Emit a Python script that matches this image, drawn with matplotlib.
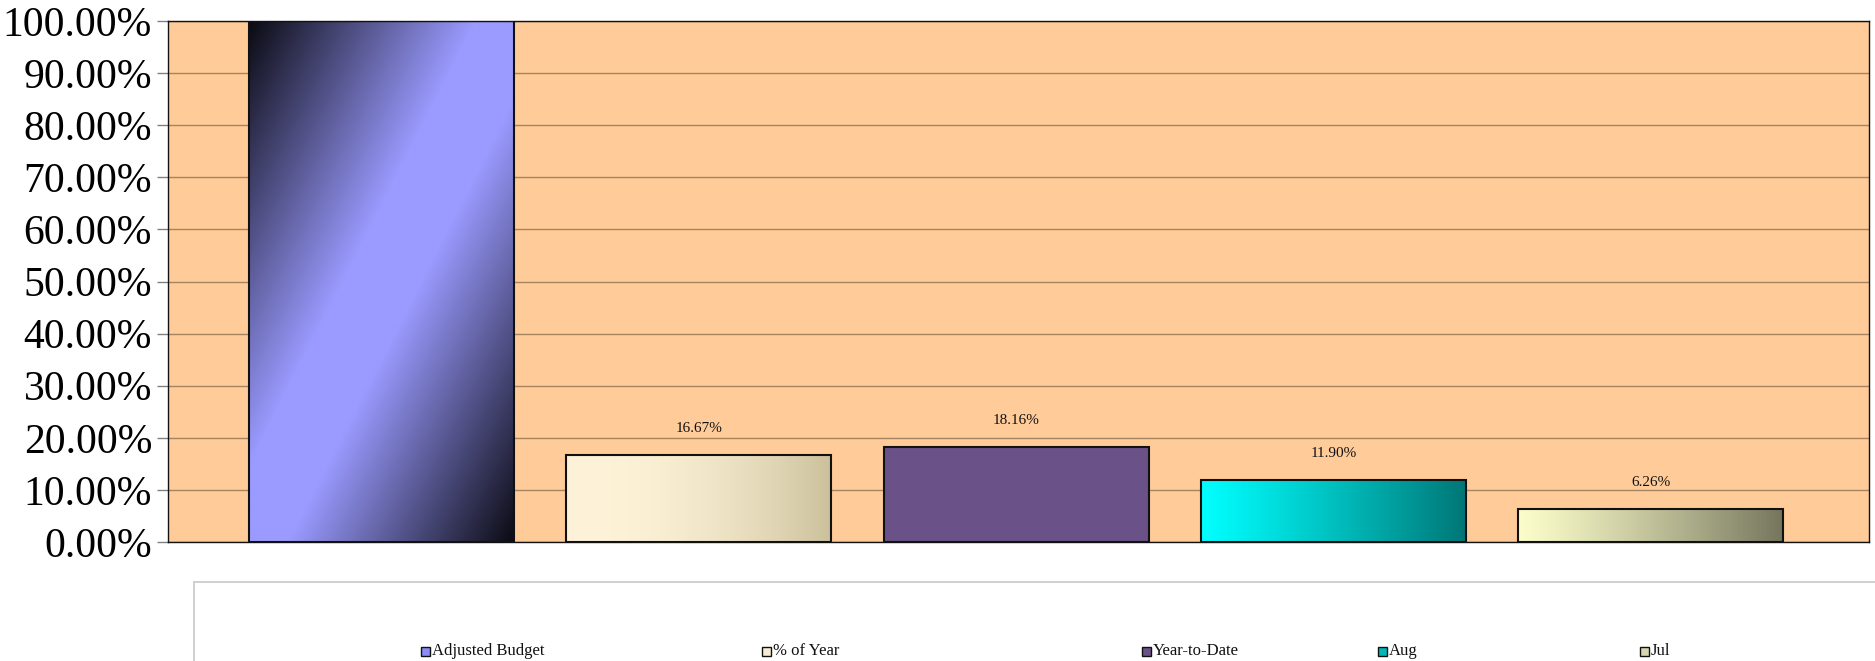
import numpy as np
import matplotlib
matplotlib.use("Agg")
import matplotlib.pyplot as plt
from matplotlib.patches import Rectangle
from matplotlib.colors import to_rgb

# ---------------- data ----------------
series = ["Adjusted Budget", "% of Year", "Year-to-Date", "Aug", "Jul"]
values = [100.00, 16.67, 18.16, 11.90, 6.26]
yticks = [0, 10, 20, 30, 40, 50, 60, 70, 80, 90, 100]
ytick_labels = [f"{v:.2f}%" for v in yticks]

# ---------------- styles ----------------
fills = [
    ("diag", "#9a9aff", "#0a0a12", 1.0),
    ("h", "#fef2d8", "#cbc09b", 2.2),
    ("solid", "#6a5187", None, 1.0),
    ("h", "#00ffff", "#007676", 1.1),
    ("h", "#fbfdca", "#75755d", 1.2),
]
legend_colors = ["#8c8cf8", "#f6ecd2", "#6a5187", "#00b8b8", "#d8d6b0"]

W, H = 1875, 661
FONT = "Liberation Serif"

fig = plt.figure(figsize=(W / 100, H / 100), dpi=100)
fig.patch.set_facecolor("white")
L, R, T, B = 168, 1869, 21, 542
ax = fig.add_axes([L / W, 1 - B / H, (R - L) / W, (B - T) / H])
ax.set_facecolor("#ffcc99")

x = np.arange(len(values))
bar_w = 0.835
XL = (-0.672, len(values) - 1 + 0.687)

def gradient(kind, c1, c2, gamma, n=300):
    c1 = np.array(to_rgb(c1))
    if kind == "solid":
        return None
    c2 = np.array(to_rgb(c2))
    if kind == "diag":
        yy, xx = np.mgrid[0:1:n * 1j, 0:1:n * 1j]
        s = np.abs(xx + yy - 1.0)
        s = np.clip((s - 0.15) / 0.85, 0, 1) ** gamma
    else:
        xx = np.linspace(0, 1, n)[None, :].repeat(4, axis=0)
        s = xx ** gamma
    return c1 * (1 - s)[..., None] + c2 * s[..., None]

bars = ax.bar(x, values, width=bar_w, zorder=3, edgecolor="#111111", linewidth=1.5)
for b, (kind, c1, c2, g) in zip(bars, fills):
    img = gradient(kind, c1, c2, g)
    if img is None:
        b.set_facecolor(c1)
    else:
        b.set_facecolor("none")
        x0, y0 = b.get_x(), b.get_y()
        ax.imshow(img, extent=(x0, x0 + b.get_width(), y0, y0 + b.get_height()),
                  origin="upper", aspect="auto", zorder=2, interpolation="bilinear")
ax.set_xlim(*XL)
ax.set_ylim(0, 100)

ymax = ax.get_ylim()[1]
for xi, v in zip(x, values):
    if v >= ymax:
        continue
    ax.annotate(f"{v:.2f}%", (xi, v), xytext=(0, 19), textcoords="offset points",
                ha="center", va="center", fontsize=11, family=FONT, color="#111111",
                zorder=5)

ax.set_yticks(yticks)
ax.set_yticklabels(ytick_labels, fontsize=30, family=FONT)
ax.set_xticks([])
ax.tick_params(axis="y", length=8, color="#808080", width=1, pad=3.5)
ax.yaxis.grid(True, color="#a6845f", linewidth=1)
ax.set_axisbelow(True)
for s in ax.spines.values():
    s.set_color("#111111")
    s.set_linewidth(1)

# ---------------- legend ----------------
box = Rectangle((194 / W, -0.2), 2.0, 0.2 + (H - 582) / H, transform=fig.transFigure,
                facecolor="white", edgecolor="#c8c8c8", linewidth=1.2)
fig.add_artist(box)
marker_lefts = [421, 762, 1142, 1378, 1640]
ym = 651
ms = 9
for name, col, xl in zip(series, legend_colors, marker_lefts):
    fig.add_artist(Rectangle((xl / W, (H - ym - ms / 2) / H), ms / W, ms / H,
                             transform=fig.transFigure, facecolor=col,
                             edgecolor="#111111", linewidth=1))
    fig.text((xl + ms + 2) / W, (H - ym) / H, name, fontsize=12, family=FONT,
             ha="left", va="center", color="#111111")

fig.savefig("out.png", dpi=100)
